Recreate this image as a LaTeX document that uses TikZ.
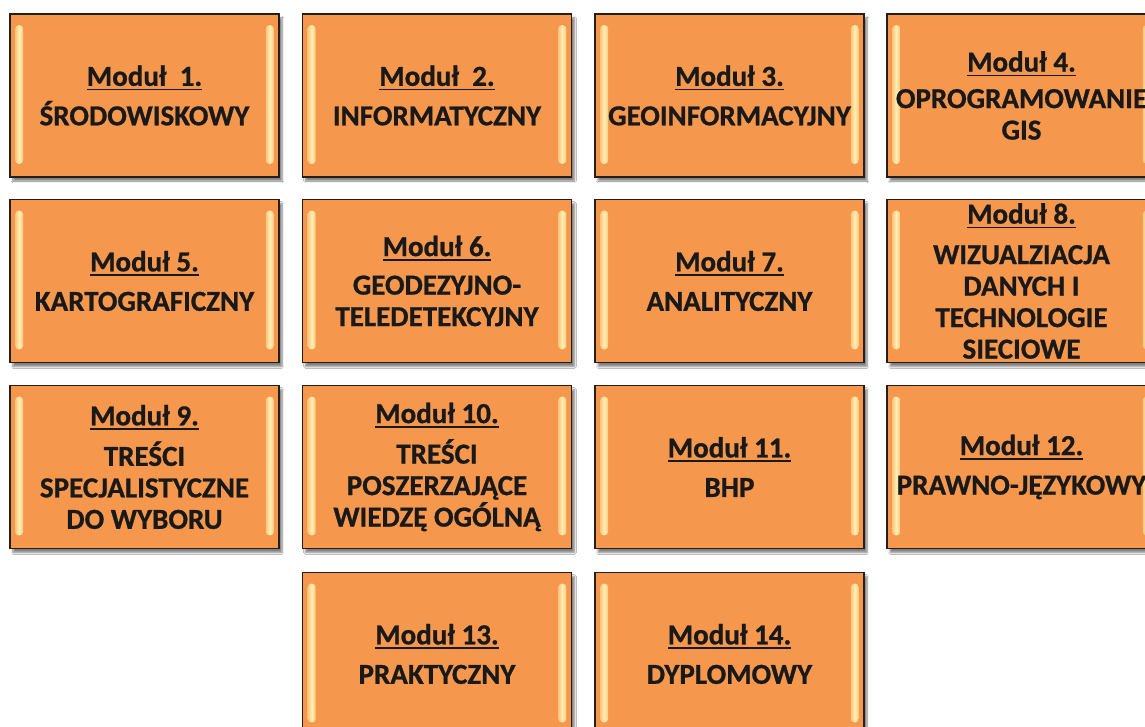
\documentclass[tikz,border=0pt]{standalone}
\usepackage{fontspec}
\setmainfont{Carlito}[BoldFeatures={FakeBold=0.8}]
\usetikzlibrary{shadows.blur}
\definecolor{modorange}{RGB}{245,152,78}
\definecolor{modlight}{RGB}{255,236,165}
\definecolor{modedge}{RGB}{40,30,25}
\newcommand\myul[1]{\setbox0\hbox{#1}\rlap{\rule[-4.5pt]{\wd0}{1.5pt}}\box0}
\tikzset{
  modbox/.style={draw=modedge, line width=1.6pt, fill=modorange, minimum width=269pt, minimum height=163pt, inner sep=0pt,
    blur shadow={shadow xshift=3pt, shadow yshift=-4pt, shadow blur steps=6, shadow opacity=50}},
  modtext/.style={align=center, inner sep=0pt, text=black!90, font=\bfseries\fontsize{29}{31.5}\selectfont},
  bevel/.style={left color=modorange!45!modlight, right color=modorange!45!modlight, middle color=modlight!85!white, rounded corners=3.5pt}
}
\newcommand\module[4]{%
  \node[modbox] (b#1) at (#2,#3) {};
  \shade[bevel] ([xshift=6pt,yshift=-12pt]b#1.north west) rectangle ([xshift=14pt,yshift=14pt]b#1.south west);
  \shade[bevel] ([xshift=-14pt,yshift=-12pt]b#1.north east) rectangle ([xshift=-6pt,yshift=14pt]b#1.south east);
  \node[modtext] (t#1) at (b#1.center) {#4};
}
\begin{document}
\begin{tikzpicture}[x=1pt,y=-1pt]
\useasboundingbox (0,0) rectangle (1145,727);
\clip (0,0) rectangle (1145,727);
\fill[white] (0,0) rectangle (1145,727);
\module{1}{144.5}{95.5}{\myul{Moduł\ \ 1.}\\[8pt] ŚRODOWISKOWY}
\module{2}{437}{95.5}{\myul{Moduł\ \ 2.}\\[8pt] INFORMATYCZNY}
\module{3}{729.5}{95.5}{\myul{Moduł 3.}\\[8pt] GEOINFORMACYJNY}
\module{4}{1021.5}{95.5}{\myul{Moduł 4.}\\[5pt] OPROGRAMOWANIE\\ GIS}
\module{5}{144.5}{281}{\myul{Moduł 5.}\\[8pt] KARTOGRAFICZNY}
\module{6}{437}{281}{\myul{Moduł 6.}\\[7pt] GEODEZYJNO-\\ TELEDETEKCYJNY}
\module{7}{729.5}{281}{\myul{Moduł 7.}\\[8pt] ANALITYCZNY}
\module{8}{1021.5}{281}{\myul{Moduł 8.}\\[9pt] WIZUALZIACJA\\ DANYCH I\\ TECHNOLOGIE\\ SIECIOWE}
\module{9}{144.5}{467}{\myul{Moduł 9.}\\[9pt] TREŚCI\\ SPECJALISTYCZNE\\ DO WYBORU}
\module{10}{437}{467}{\myul{Moduł 10.}\\[9pt] TREŚCI\\ POSZERZAJĄCE\\ WIEDZĘ OGÓLNĄ}
\module{11}{729.5}{467}{\myul{Moduł 11.}\\[8pt] BHP}
\module{12}{1021.5}{467}{\myul{Moduł 12.}\\[8pt] PRAWNO-JĘZYKOWY}
\module{13}{437}{654}{\myul{Moduł 13.}\\[8pt] PRAKTYCZNY}
\module{14}{729.5}{654}{\myul{Moduł 14.}\\[8pt] DYPLOMOWY}
\end{tikzpicture}
\end{document}
